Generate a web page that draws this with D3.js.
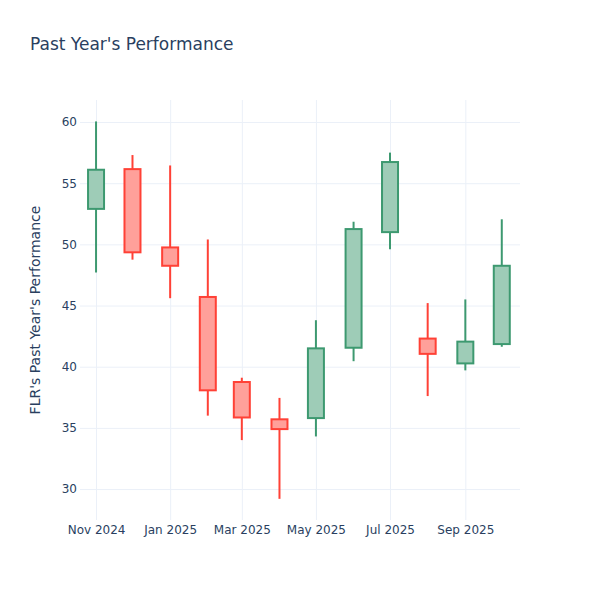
<!DOCTYPE html>
<html>
<head>
<meta charset="utf-8">
<script src="https://cdn.jsdelivr.net/npm/d3@7"></script>
<style>
  body { margin: 0; background: #fff; }
  text { font-family: "DejaVu Sans", sans-serif; fill: #2a3f5f; }
</style>
</head>
<body>
<div class="chart"></div>
<script>
// monthly candles
var months = ["2024-11-01", "2024-12-01", "2025-01-01", "2025-02-01", "2025-03-01", "2025-04-01",
              "2025-05-01", "2025-06-01", "2025-07-01", "2025-08-01", "2025-09-01", "2025-10-01"];
var opens  = [52.9, 56.15, 49.75, 45.7, 38.75, 35.7, 35.8, 41.55, 51.0, 42.3, 40.27, 41.85];
var highs  = [60.05, 57.3, 56.45, 50.4, 39.1, 37.45, 43.8, 51.85, 57.5, 45.2, 45.5, 52.05];
var lows   = [47.7, 48.75, 45.6, 36.0, 34.0, 29.2, 34.3, 40.45, 49.6, 37.6, 39.7, 41.63];
var closes = [56.1, 49.35, 48.25, 38.07, 35.85, 34.9, 41.5, 51.25, 56.73, 41.05, 42.05, 48.25];

var yTicks = [30, 35, 40, 45, 50, 55, 60];
var xTicks = ["2024-11-01", "2025-01-01", "2025-03-01", "2025-05-01", "2025-07-01", "2025-09-01"];

var svgWidth = 600;
var svgHeight = 600;
var margin = { top: 100, bottom: 80, right: 80, left: 80 };
var width = svgWidth - margin.left - margin.right;
var height = svgHeight - margin.top - margin.bottom;

var parseDate = d3.timeParse("%Y-%m-%d");

var data = months.map(function(m, i) {
  return { date: parseDate(m), open: opens[i], high: highs[i], low: lows[i], close: closes[i] };
});

var svg = d3.select(".chart")
  .append("svg")
  .attr("width", svgWidth)
  .attr("height", svgHeight);

var chartGroup = svg.append("g")
  .attr("transform", `translate(${margin.left}, ${margin.top})`);

// scales
var xTimeScale = d3.scaleTime()
  .domain([new Date(2024, 9, 18, 19), new Date(2025, 9, 16)])
  .range([0, width]);

var yLinearScale = d3.scaleLinear()
  .domain([27.47, 61.8])
  .range([height, 0]);

// axes with grid lines
var xAxis = d3.axisBottom(xTimeScale)
  .tickValues(xTicks.map(parseDate))
  .tickFormat(d3.timeFormat("%b %Y"))
  .tickSize(-height)
  .tickPadding(5);

var yAxis = d3.axisLeft(yLinearScale)
  .tickValues(yTicks)
  .tickSize(-width)
  .tickPadding(3);

var xg = chartGroup.append("g")
  .attr("transform", `translate(0, ${height})`)
  .call(xAxis);

var yg = chartGroup.append("g")
  .call(yAxis);

[xg, yg].forEach(function(g) {
  g.select(".domain").remove();
  g.selectAll(".tick line").attr("stroke", "#ebf0f8").attr("stroke-width", 1);
  g.selectAll(".tick text").attr("font-size", 12).attr("fill", "#2a3f5f");
});

// candles
var upColor = "#3D9970", downColor = "#FF4136";
var bodyW = 16;

var candles = chartGroup.selectAll(".candle")
  .data(data)
  .enter()
  .append("g")
  .attr("class", "candle");

candles.append("line")
  .attr("x1", d => xTimeScale(d.date))
  .attr("x2", d => xTimeScale(d.date))
  .attr("y1", d => yLinearScale(d.high))
  .attr("y2", d => yLinearScale(d.low))
  .attr("stroke", d => d.close >= d.open ? upColor : downColor)
  .attr("stroke-width", 2);

candles.append("rect")
  .attr("x", d => xTimeScale(d.date) - bodyW / 2)
  .attr("y", d => yLinearScale(Math.max(d.open, d.close)))
  .attr("width", bodyW)
  .attr("height", d => Math.abs(yLinearScale(d.open) - yLinearScale(d.close)))
  .attr("fill", d => d.close >= d.open ? "rgb(158,204,183)" : "rgb(255,160,154)")
  .attr("stroke", d => d.close >= d.open ? upColor : downColor)
  .attr("stroke-width", 2);

// title and axis label
svg.append("text")
  .attr("x", 30)
  .attr("y", 50)
  .attr("font-size", 17)
  .text("Past Year's Performance");

svg.append("text")
  .attr("transform", "rotate(-90)")
  .attr("x", -(margin.top + height / 2))
  .attr("y", 40)
  .attr("text-anchor", "middle")
  .attr("font-size", 14)
  .text("FLR's Past Year's Performance");
</script>
</body>
</html>
